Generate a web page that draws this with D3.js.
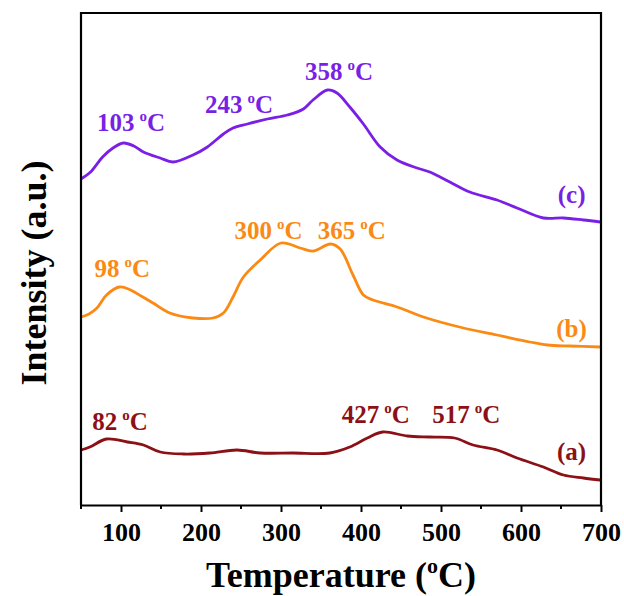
<!DOCTYPE html>
<html>
<head>
<meta charset="utf-8">
<script src="https://cdn.jsdelivr.net/npm/d3@7"></script>
<style>
  html, body { margin: 0; padding: 0; background: #fff; }
  svg { display: block; font-family: "Liberation Serif", "Times New Roman", serif; font-weight: bold; }
</style>
</head>
<body>
<svg id="chart" width="624" height="596"></svg>
<script>
// TPR profiles: temperature (°C) vs. intensity (a.u., curves stacked with offsets)

// sample (c)
const seriesC = [
  [50, 326], [62, 333], [77, 348], [90, 357], [103, 362], [116, 359], [128, 353], [149, 347], [165, 343],
  [190, 350], [208, 358], [228, 371], [240, 377], [258, 381], [283, 386], [308, 390], [328, 396],
  [340, 405], [358, 415], [370, 412], [386, 398], [403, 381], [424, 358], [445, 345], [470, 337],
  [486, 333], [511, 323], [536, 313], [570, 305], [595, 297], [628, 287], [653, 287], [678, 285], [699, 283]
];
// sample (b)
const seriesB = [
  [50, 188], [60, 191], [70, 197], [82, 210], [98, 218], [112, 215], [125, 209], [140, 202],
  [161, 192], [190, 187], [215, 187], [228, 192], [240, 208], [253, 228], [274, 245], [300, 262],
  [324, 257], [340, 254], [362, 261], [374, 256], [390, 230], [403, 210], [415, 205], [445, 198],
  [478, 188], [528, 177], [570, 170], [611, 163], [633, 160], [661, 159], [699, 158]
];
// sample (a)
const seriesA = [
  [50, 55], [61, 58], [82, 66], [108, 63], [128, 60], [149, 53], [178, 51], [211, 52],
  [245, 55], [274, 52], [315, 52], [361, 52], [386, 58], [408, 67], [427, 73], [458, 69],
  [486, 68], [517, 67], [540, 60], [570, 55], [595, 47], [628, 38], [653, 30], [678, 27], [699, 25]
];

const xTicks = [100, 200, 300, 400, 500, 600, 700];
const xMinorTicks = [50, 150, 250, 350, 450, 550, 650];

// peak annotations (temperatures in °C) and curve tags
const peakTextsC = ["103", "243", "358"];
const peakTextsB = ["98", "300", "365"];
const peakTextsA = ["82", "427", "517"];
const tags = ["(c)", "(b)", "(a)"];

const colors = { c: "#7a1fe6", b: "#fb8a14", a: "#8b1116" };

// label anchors: [start temperature, baseline intensity]
const anchorsC = [[70, 374], [205, 392], [330, 425]];
const anchorsB = [[67, 228], [242, 266], [346, 266]];
const anchorsA = [[64, 75], [376, 82], [489, 82]];
const tagAnchors = [[646, 302], [644, 168], [645, 45]];

const svg = d3.select("#chart");
const plotL = 81, plotR = 601, plotT = 13, plotB = 505;

const x = d3.scaleLinear().domain([50, 700]).range([plotL, plotR]);
const y = d3.scaleLinear().domain([0, 492]).range([plotB, plotT]);

const line = d3.line()
  .x(d => x(d[0]))
  .y(d => y(d[1]))
  .curve(d3.curveCatmullRom.alpha(0.5));

[[seriesA, colors.a], [seriesB, colors.b], [seriesC, colors.c]].forEach(([s, c]) => {
  svg.append("path")
    .datum(s)
    .attr("d", line)
    .attr("fill", "none")
    .attr("stroke", c)
    .attr("stroke-width", 2.8)
    .attr("stroke-linejoin", "round");
});

// frame: left, top, right
svg.append("path")
  .attr("d", `M${plotL},${plotB}V${plotT}H${plotR}V${plotB}`)
  .attr("fill", "none").attr("stroke", "#000").attr("stroke-width", 2.2);

// bottom axis
const gx = svg.append("g").attr("transform", `translate(0,${plotB})`);
gx.call(d3.axisBottom(x).tickValues(xTicks).tickSize(7).tickSizeOuter(0).tickPadding(11).tickFormat(d3.format("d")));
gx.select(".domain").attr("stroke-width", 2.2);
gx.selectAll(".tick line").attr("stroke-width", 2);
gx.selectAll(".tick text")
  .attr("font-family", "Liberation Serif, Times New Roman, serif")
  .attr("font-weight", "bold")
  .attr("font-size", 26)
  .attr("fill", "#000");
gx.selectAll(".minor").data(xMinorTicks).enter().append("line")
  .attr("class", "minor")
  .attr("x1", d => x(d)).attr("x2", d => x(d))
  .attr("y1", 0).attr("y2", 4)
  .attr("stroke", "#000").attr("stroke-width", 2);

// axis titles
const xt = svg.append("text")
  .attr("x", (plotL + plotR) / 2).attr("y", 587)
  .attr("text-anchor", "middle").attr("font-size", 36).attr("fill", "#000");
xt.append("tspan").text("Temperature (");
xt.append("tspan").text("o").attr("font-size", 22).attr("dy", -14);
xt.append("tspan").text("C)").attr("dy", 14);

svg.append("text")
  .attr("transform", "translate(46,273) rotate(-90)")
  .attr("text-anchor", "middle").attr("font-size", 36).attr("fill", "#000")
  .text("Intensity (a.u.)");

// peak labels
function peakLabel(txt, a, color) {
  const t = svg.append("text")
    .attr("x", x(a[0])).attr("y", y(a[1]))
    .attr("font-size", 25).attr("fill", color);
  t.append("tspan").text(txt + "\u2009");
  t.append("tspan").text("o").attr("font-size", 15).attr("dy", -10);
  t.append("tspan").text("C").attr("dy", 10);
}
peakTextsC.forEach((s, i) => peakLabel(s, anchorsC[i], colors.c));
peakTextsB.forEach((s, i) => peakLabel(s, anchorsB[i], colors.b));
peakTextsA.forEach((s, i) => peakLabel(s, anchorsA[i], colors.a));

[colors.c, colors.b, colors.a].forEach((c, i) => {
  svg.append("text")
    .attr("x", x(tagAnchors[i][0])).attr("y", y(tagAnchors[i][1]))
    .attr("font-size", 25).attr("fill", c)
    .text(tags[i]);
});
</script>
</body>
</html>
